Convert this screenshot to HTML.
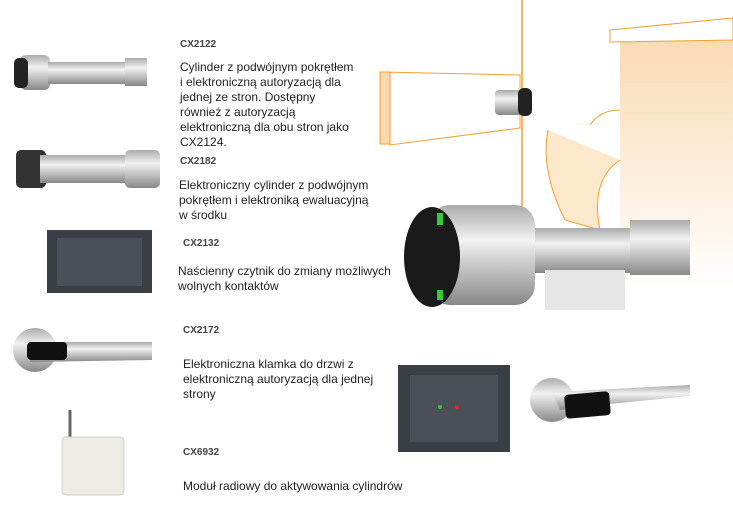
<!DOCTYPE html>
<html><head><meta charset="utf-8"><style>
body{margin:0;width:733px;height:523px;background:#fff;position:relative;overflow:hidden;font-family:"Liberation Sans",sans-serif;color:#222}
.t{position:absolute;font-size:12px;line-height:15px}
.h{position:absolute;font-size:10px;font-weight:bold;color:#444}
svg{position:absolute;left:0;top:0}
</style></head><body>
<svg width="733" height="523">
<defs>
<linearGradient id="pe" x1="0" y1="0" x2="0" y2="1"><stop offset="0" stop-color="#f9d9b0"/><stop offset="1" stop-color="#fff"/></linearGradient>
<linearGradient id="mt" x1="0" y1="0" x2="0" y2="1"><stop offset="0" stop-color="#aaa"/><stop offset=".35" stop-color="#f2f2f2"/><stop offset="1" stop-color="#888"/></linearGradient>
</defs>
<!-- orange illustration -->
<line x1="522" y1="0" x2="522" y2="230" stroke="#f0a030" stroke-width="1.5"/>
<rect x="620" y="30" width="113" height="260" fill="url(#pe)"/>
<polygon points="610,30 733,18 733,40 610,42" fill="#fff" stroke="#f0a030"/>
<path d="M548,130 Q540,170 565,220 L600,230 Q590,180 620,160" fill="#fde8cc" stroke="#f0a030"/>
<path d="M590,125 Q600,110 620,110" fill="none" stroke="#f0a030"/>
<path d="M380,72 L520,75 L520,128 L390,145 Z" fill="#fff" stroke="#f0a030"/>
<rect x="380" y="72" width="10" height="72" fill="#fbd9ae" stroke="#f0a030"/>
<rect x="495" y="90" width="35" height="25" rx="4" fill="url(#mt)"/>
<rect x="518" y="88" width="14" height="28" rx="6" fill="#222"/>
<!-- big cylinder -->
<rect x="530" y="228" width="110" height="45" fill="url(#mt)"/>
<rect x="630" y="220" width="60" height="55" fill="url(#mt)"/>
<rect x="545" y="270" width="80" height="40" fill="#e6e6e6"/>
<rect x="430" y="205" width="105" height="100" rx="20" fill="url(#mt)"/>
<ellipse cx="432" cy="257" rx="28" ry="50" fill="#1a1a1a"/>
<rect x="437" y="213" width="6" height="12" fill="#3c3"/><rect x="437" y="290" width="6" height="10" fill="#3c3"/>
<!-- bottom reader -->
<rect x="398" y="365" width="112" height="87" fill="#3a3f45"/>
<rect x="410" y="375" width="88" height="67" fill="#4b5058"/>
<circle cx="440" cy="407" r="2" fill="#3c3"/><circle cx="457" cy="407" r="2" fill="#e22"/>
<!-- bottom handle -->
<circle cx="552" cy="400" r="22" fill="url(#mt)"/>
<path d="M552,392 L690,385 L690,396 L600,405 L560,410 Z" fill="url(#mt)"/>
<rect x="565" y="393" width="45" height="24" rx="4" fill="#111" transform="rotate(-5 587 405)"/>
<!-- left products -->
<rect x="20" y="55" width="30" height="35" rx="6" fill="url(#mt)"/>
<rect x="14" y="58" width="14" height="30" rx="5" fill="#222"/>
<rect x="48" y="62" width="80" height="22" fill="url(#mt)"/>
<rect x="125" y="58" width="22" height="28" fill="url(#mt)"/>
<rect x="16" y="150" width="30" height="38" rx="5" fill="#333"/>
<rect x="40" y="155" width="90" height="28" fill="url(#mt)"/>
<rect x="125" y="150" width="35" height="38" rx="5" fill="url(#mt)"/>
<rect x="47" y="230" width="105" height="63" fill="#3a3f45"/>
<rect x="57" y="238" width="85" height="48" fill="#4b5058"/>
<circle cx="35" cy="350" r="22" fill="url(#mt)"/>
<path d="M30,342 L152,342 L152,360 L30,362 Z" fill="url(#mt)"/>
<rect x="27" y="342" width="40" height="18" rx="4" fill="#111"/>
<line x1="70" y1="410" x2="70" y2="440" stroke="#666" stroke-width="3"/>
<rect x="62" y="437" width="62" height="58" rx="4" fill="#ecebe4" stroke="#ccc"/>
</svg>
<div class="h" style="left:180px;top:39px">CX2122</div>
<div class="t" style="left:180px;top:60px">Cylinder z podwójnym pokrętłem<br>i elektroniczną autoryzacją dla<br>jednej ze stron. Dostępny<br>również z autoryzacją<br>elektroniczną dla obu stron jako<br>CX2124.</div>
<div class="h" style="left:180px;top:156px">CX2182</div>
<div class="t" style="left:179px;top:178px">Elektroniczny cylinder z podwójnym<br>pokrętłem i elektroniką ewaluacyjną<br>w środku</div>
<div class="h" style="left:183px;top:238px">CX2132</div>
<div class="t" style="left:178px;top:264px">Naścienny czytnik do zmiany możliwych<br>wolnych kontaktów</div>
<div class="h" style="left:183px;top:325px">CX2172</div>
<div class="t" style="left:183px;top:357px">Elektroniczna klamka do drzwi z<br>elektroniczną autoryzacją dla jednej<br>strony</div>
<div class="h" style="left:183px;top:447px">CX6932</div>
<div class="t" style="left:183px;top:479px">Moduł radiowy do aktywowania cylindrów</div>
</body></html>
